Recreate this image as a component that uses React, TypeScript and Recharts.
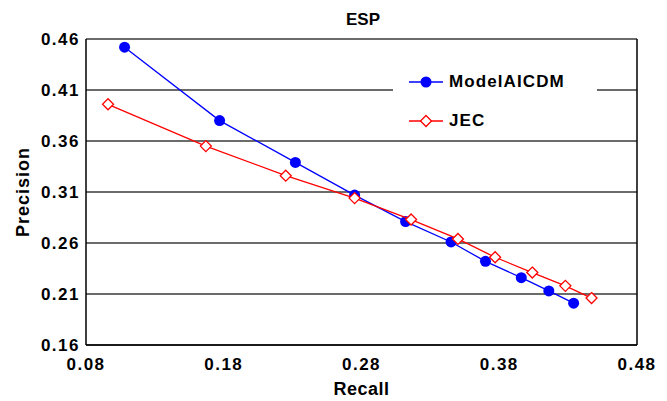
import { CartesianGrid, Legend, ReferenceLine, Scatter, ScatterChart, XAxis, YAxis } from "recharts";

const modelRecall = [0.108, 0.177, 0.232, 0.275, 0.312, 0.345, 0.370, 0.396, 0.416, 0.434];
const modelPrecision = [0.452, 0.380, 0.339, 0.307, 0.281, 0.261, 0.242, 0.226, 0.213, 0.201];
const jecRecall = [0.096, 0.167, 0.225, 0.275, 0.316, 0.350, 0.377, 0.404, 0.428, 0.447];
const jecPrecision = [0.396, 0.355, 0.326, 0.304, 0.283, 0.264, 0.246, 0.231, 0.218, 0.206];
const xTicks = [0.08, 0.18, 0.28, 0.38, 0.48];
const yTicks = [0.16, 0.21, 0.26, 0.31, 0.36, 0.41, 0.46];

const modelData = modelRecall.map((r, i) => ({ recall: r, precision: modelPrecision[i] }));
const jecData = jecRecall.map((r, i) => ({ recall: r, precision: jecPrecision[i] }));

const font = "'Liberation Sans', Arial, sans-serif";
const tickStyle = { fontSize: 17, fontWeight: 700, fill: "#000", fontFamily: font, letterSpacing: 1.5 };

const BlueDot = (p: any) => <circle cx={p.cx} cy={p.cy} r={5.5} fill="#0000ff" />;

const RedDiamond = (p: any) => (
  <path
    d={`M${p.cx},${p.cy - 5.5}L${p.cx + 5.5},${p.cy}L${p.cx},${p.cy + 5.5}L${p.cx - 5.5},${p.cy}Z`}
    fill="#fff"
    stroke="#ff0000"
    strokeWidth={1.3}
  />
);

function LegendBox() {
  const row = (label: string, color: string, marker: "dot" | "diamond") => (
    <div style={{ display: "flex", alignItems: "center", height: 39 }}>
      <svg width={34} height={14} style={{ marginLeft: 16 }}>
        <line x1={0} y1={7} x2={34} y2={7} stroke={color} strokeWidth={1.3} />
        {marker === "dot" ? (
          <circle cx={17} cy={7} r={5.5} fill={color} />
        ) : (
          <path d="M17,1.5L22.5,7L17,12.5L11.5,7Z" fill="#fff" stroke={color} strokeWidth={1.3} />
        )}
      </svg>
      <span style={{ marginLeft: 6, fontSize: 17, fontWeight: 700, fontFamily: font, letterSpacing: 1.1, color: "#000" }}>
        {label}
      </span>
    </div>
  );
  return (
    <div>
      {row("ModelAICDM", "#0000ff", "dot")}
      {row("JEC", "#ff0000", "diamond")}
    </div>
  );
}

export default function App() {
  return (
    <div style={{ position: "absolute", left: 0, top: 0, width: 667, height: 401, background: "#fff" }}>
      <div
        style={{
          position: "absolute",
          left: 0,
          width: 726,
          top: 10,
          textAlign: "center",
          fontSize: 17,
          fontWeight: 700,
          fontFamily: font,
          color: "#000",
          zIndex: 2,
        }}
      >
        ESP
      </div>
      <ScatterChart width={667} height={401} margin={{ top: 39, right: 30, bottom: 26, left: 0 }}>
        <CartesianGrid vertical={false} stroke="#3a3a3a" strokeWidth={1.5} />
        <XAxis
          type="number"
          dataKey="recall"
          domain={[0.08, 0.48]}
          ticks={xTicks}
          tickFormatter={(v: number) => v.toFixed(2)}
          tick={tickStyle}
          tickLine={false}
          tickSize={8}
          tickMargin={5}
          height={30}
          axisLine={{ stroke: "#000", strokeWidth: 1.5 }}
          allowDataOverflow
          label={{
            value: "Recall",
            position: "bottom",
            offset: 7,
            style: { fontSize: 18, fontWeight: 700, fill: "#000", fontFamily: font, letterSpacing: 0.5 },
          }}
        />
        <YAxis
          type="number"
          dataKey="precision"
          domain={[0.16, 0.46]}
          ticks={yTicks}
          tickFormatter={(v: number) => v.toFixed(2)}
          tick={tickStyle}
          tickLine={false}
          tickSize={4}
          tickMargin={2}
          width={86}
          axisLine={{ stroke: "#000", strokeWidth: 1.5 }}
          allowDataOverflow
          label={{
            value: "Precision",
            angle: -90,
            position: "insideLeft",
            offset: 15,
            dx: 8,
            style: { textAnchor: "middle", fontSize: 18, fontWeight: 700, fill: "#000", fontFamily: font, letterSpacing: 1 },
          }}
        />
        <ReferenceLine x={0.48} stroke="#000" strokeWidth={1.5} />
        <Legend
          layout="vertical"
          align="center"
          verticalAlign="middle"
          content={() => <LegendBox />}
          wrapperStyle={{ position: "absolute", left: 393, top: 62, width: 204, height: 78, background: "#fff" }}
        />
        <Scatter
          name="ModelAICDM"
          data={modelData}
          line={{ stroke: "#0000ff", strokeWidth: 1.3 }}
          lineType="joint"
          shape={BlueDot}
          isAnimationActive={false}
        />
        <Scatter
          name="JEC"
          data={jecData}
          line={{ stroke: "#ff0000", strokeWidth: 1.3 }}
          lineType="joint"
          shape={RedDiamond}
          isAnimationActive={false}
        />
      </ScatterChart>
    </div>
  );
}
